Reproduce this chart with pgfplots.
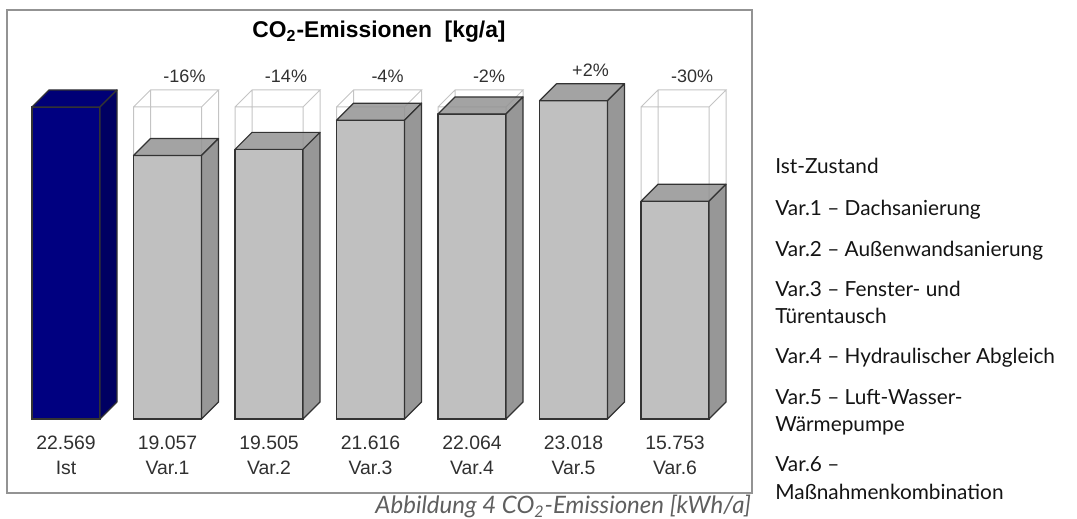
\documentclass[border=0pt]{standalone}
\usepackage{pgfplots}
\pgfplotsset{compat=1.18}
\usepackage{pgfplotstable}
\usepackage{fontspec}
\setmainfont{Liberation Sans}
\newfontfamily\lato{Lato}

\definecolor{navyF}{HTML}{000080}
\definecolor{navyS}{HTML}{000062}
\definecolor{navyT}{HTML}{000076}
\definecolor{barF}{HTML}{C0C0C0}
\definecolor{barS}{HTML}{979797}
\definecolor{barT}{HTML}{939393}
\definecolor{edge}{HTML}{333333}
\definecolor{ghost}{HTML}{C4C4C4}
\definecolor{txt}{HTML}{303030}
\definecolor{capt}{HTML}{5F5F5F}

% CO2 emissions in t/a (printed as 22.569 = 22,569 kg/a)
\pgfplotstableread{
x  v       name   pct
0  22.569  Ist    {}
1  19.057  Var.1  -16\%
2  19.505  Var.2  -14\%
3  21.616  Var.3  -4\%
4  22.064  Var.4  -2\%
5  23.018  Var.5  +2\%
6  15.753  Var.6  -30\%
}\emis
\pgfplotstablegetelem{0}{v}\of\emis
\let\istval\pgfplotsretval

% empty plot mark: the scatter hooks below do all the drawing
\pgfdeclareplotmark{void}{}

\def\bhw{0.335}    % half width of the front face (axis units)
\def\bdep{8.5pt}   % depth of the 3d box on screen

\pgfplotsset{
  box3d/.style n args={3}{% side colour, top colour, top opacity
    scatter, only marks, mark=void,
    visualization depends on={rawy \as \val},
    scatter/@pre marker code/.code={%
      \fill[#2, fill opacity=#3, draw=edge, line width=0.6pt, line join=round]
        (axis direction cs:-\bhw,0) -- (axis direction cs:\bhw,0)
        -- ++(\bdep,\bdep) -- ([shift={(\bdep,\bdep)}]axis direction cs:-\bhw,0) -- cycle;
      \fill[#1, draw=edge, line width=0.6pt, line join=round]
        (axis direction cs:\bhw,0) -- ++(\bdep,\bdep)
        -- ([shift={(\bdep,\bdep)}]axis direction cs:\bhw,-\val)
        -- (axis direction cs:\bhw,-\val) -- cycle;
    },
    scatter/@post marker code/.code={},
  },
  ghostbox/.style={
    scatter, only marks, mark=void,
    visualization depends on={rawy \as \val},
    scatter/@pre marker code/.code={%
      \pgfmathsetmacro\g{max(\istval-\val,0)}%
      \ifdim\g pt>0pt
      \draw[ghost, line width=0.5pt]
        (axis direction cs:-\bhw,0) -- (axis direction cs:-\bhw,\g)
          -- (axis direction cs:\bhw,\g) -- (axis direction cs:\bhw,0)
        (axis direction cs:-\bhw,\g) -- ++(\bdep,\bdep)
          -- ([shift={(\bdep,\bdep)}]axis direction cs:\bhw,\g) -- (axis direction cs:\bhw,\g)
        ([shift={(\bdep,\bdep)}]axis direction cs:-\bhw,\g) -- ([shift={(\bdep,\bdep)}]axis direction cs:-\bhw,0)
        ([shift={(\bdep,\bdep)}]axis direction cs:\bhw,\g) -- ([shift={(\bdep,\bdep)}]axis direction cs:\bhw,0);
      \fi
    },
    scatter/@post marker code/.code={},
  },
  labelrow/.style n args={3}{% xshift, yshift, font size
    draw=none, mark=void,
    point meta=explicit symbolic,
    nodes near coords,
    nodes near coords style={anchor=center, inner sep=0pt, text=txt,
      xshift=#1, yshift=#2, font=\fontsize{#3}{#3}\selectfont},
  },
}

\begin{document}
\begin{tikzpicture}
\path[use as bounding box] (0,0) rectangle (538.5pt,259.5pt);
\begin{axis}[
  at={(3.5pt,13pt)}, anchor=south west,
  scale only axis, width=372.5pt, height=241.5pt,
  xmin=-0.5813, xmax=6.7586, ymin=-5.353, ymax=29.586,
  xtick=\empty, ytick=\empty,
  axis line style={draw=gray!85, line width=0.8pt},
  clip=false,
]
% outlines of the reference box (Ist height)
\addplot[ghostbox, restrict x to domain=1:6] table[x=x, y=v] {\emis};
% front faces
\addplot[ybar, bar width=0.67, bar shift=0pt, fill=navyF, draw=edge, line width=0.6pt,
  restrict x to domain=0:0] table[x=x, y=v] {\emis};
\addplot[ybar, bar width=0.67, bar shift=0pt, fill=barF, draw=edge, line width=0.6pt,
  restrict x to domain=1:6] table[x=x, y=v] {\emis};
% top and side faces
\addplot[box3d={navyS}{navyT}{1}, restrict x to domain=0:0] table[x=x, y=v] {\emis};
\addplot[box3d={barS}{barT}{0.85}, restrict x to domain=1:6] table[x=x, y=v] {\emis};
% change against the current state, above the boxes
\addplot[labelrow={\bdep}{15.5pt}{9}, restrict x to domain=1:6]
  table[x=x, y expr={max(\thisrow{v},\istval)}, meta=pct] {\emis};
% values and names below the bars
\addplot[labelrow={0pt}{-12pt}{9.7}] table[x=x, y expr=0, meta=v] {\emis};
\addplot[labelrow={0pt}{-24.5pt}{9.7}] table[x=x, y expr=0, meta=name] {\emis};
\end{axis}

\node[anchor=base, font=\bfseries\fontsize{11.4}{13}\selectfont]
  at (189.5pt,240.5pt) {CO\textsubscript{2}-Emissionen\ \ [kg/a]};

\node[anchor=base east, capt, font=\lato\itshape\fontsize{12}{14}\selectfont]
  at (379pt,2.5pt) {Abbildung 4 CO\textsubscript{2}-Emissionen [kWh/a]};

\begin{scope}[every node/.style={anchor=base west, inner sep=0pt,
    font=\lato\fontsize{10.4}{12}\selectfont, text=black!92}]
  \node at (387.5pt,172.5pt) {Ist-Zustand};
  \node at (387.5pt,151.5pt) {Var.1 – Dachsanierung};
  \node at (387.5pt,131pt)   {Var.2 – Außenwandsanierung};
  \node at (387.5pt,111pt)   {Var.3 – Fenster- und};
  \node at (387.5pt,97.5pt)  {Türentausch};
  \node at (387.5pt,77.5pt)  {Var.4 – Hydraulischer Abgleich};
  \node at (387.5pt,57pt)    {Var.5 – Luft-Wasser-};
  \node at (387.5pt,43.5pt)  {Wärmepumpe};
  \node at (387.5pt,23.5pt)  {Var.6 –};
  \node at (387.5pt,9.5pt)   {Maßnahmenkombination};
\end{scope}
\end{tikzpicture}
\end{document}
